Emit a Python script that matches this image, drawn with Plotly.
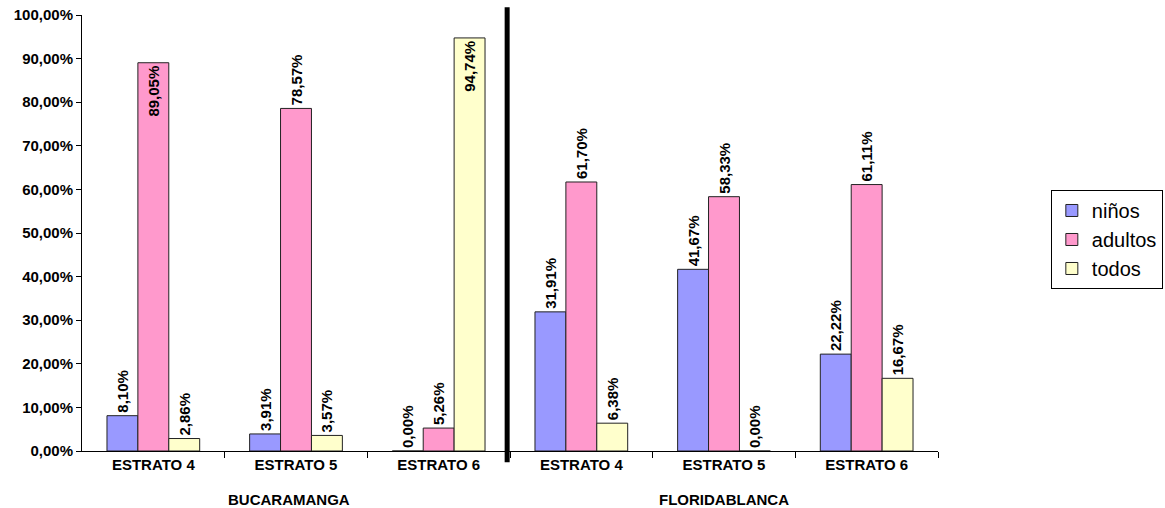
import plotly.graph_objects as go

# Estratos por ciudad
estratos = ["ESTRATO 4", "ESTRATO 5", "ESTRATO 6", "ESTRATO 4", "ESTRATO 5", "ESTRATO 6"]
ciudades = ["BUCARAMANGA", "FLORIDABLANCA"]

ninos = [8.10, 3.91, 0.00, 31.91, 41.67, 22.22]
adultos = [89.05, 78.57, 5.26, 61.70, 58.33, 61.11]
todos = [2.86, 3.57, 94.74, 6.38, 0.00, 16.67]

y_ticks = [0, 10, 20, 30, 40, 50, 60, 70, 80, 90, 100]

FONT = "Liberation Sans, Arial, sans-serif"


def pct(v):
    return f"{v:.2f}%".replace(".", ",")


def positions(vals):
    # tall bars carry their label inside, the rest above
    return ["inside" if v > 85 else "outside" for v in vals]


x = list(range(len(estratos)))
series = [
    ("niños", ninos, "#9999FF"),
    ("adultos", adultos, "#FF99CC"),
    ("todos", todos, "#FFFFCC"),
]

fig = go.Figure()
for name, vals, color in series:
    fig.add_trace(go.Bar(
        x=x, y=vals, name=name,
        marker=dict(color=color, line=dict(color="#222222", width=1)),
        text=[pct(v) for v in vals],
        textposition=positions(vals),
        insidetextanchor="end",
        constraintext="none",
        textangle=-90,
        textfont=dict(family=FONT, size=15, color="black", weight="bold"),
        cliponaxis=False,
    ))

fig.update_layout(
    width=1165, height=508,
    margin=dict(l=82, r=227, t=15, b=57, autoexpand=False),
    paper_bgcolor="white", plot_bgcolor="white",
    barmode="group", bargap=0.35, bargroupgap=0,
    font=dict(family=FONT, color="black"),
    legend=dict(
        xref="container", yref="container",
        x=0.902, y=0.626, xanchor="left", yanchor="top",
        bordercolor="black", borderwidth=1,
        font=dict(family=FONT, size=20, color="black"),
        traceorder="normal", itemwidth=30,
    ),
    showlegend=True,
)

fig.update_xaxes(
    range=[-0.5, len(estratos) - 0.5],
    tickvals=x, ticktext=estratos,
    ticks="", showline=True, linecolor="black", linewidth=1,
    tickfont=dict(family=FONT, size=15, color="black", weight="bold"),
    showgrid=False, zeroline=False,
    minor=dict(tickvals=[i + 0.5 for i in x], ticks="outside", ticklen=6,
               tickcolor="black", showgrid=False),
)
fig.update_yaxes(
    range=[0, 100],
    tickvals=y_ticks, ticktext=[pct(v) for v in y_ticks],
    ticks="outside", ticklen=5, tickcolor="black",
    showline=True, linecolor="black", linewidth=1,
    tickfont=dict(family=FONT, size=15, color="black", weight="bold"),
    showgrid=False, zeroline=False,
)

# separador entre ciudades
fig.add_shape(type="line", xref="x", yref="paper",
              x0=2.48, x1=2.48, y0=-0.026, y1=1.018,
              line=dict(color="black", width=5))

# nombres de ciudad bajo cada grupo de estratos
for ciudad, xc in zip(ciudades, [0.95, 4.0]):
    fig.add_annotation(x=xc, y=-0.112, xref="x", yref="paper",
                       text=ciudad, showarrow=False, yanchor="middle",
                       font=dict(family=FONT, size=15, color="black", weight="bold"))

fig.write_html("out.html")
